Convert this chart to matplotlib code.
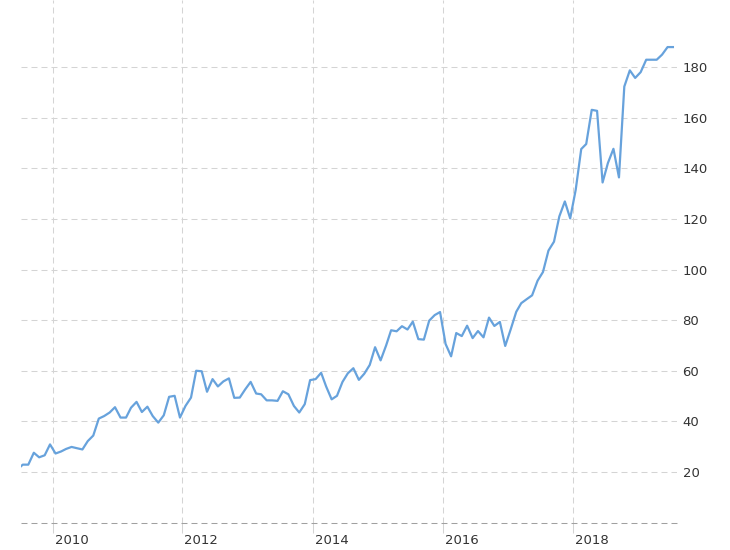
import matplotlib
matplotlib.use("Agg")
import matplotlib.pyplot as plt
import matplotlib.dates as mdates
import matplotlib.transforms as mtrans
import pandas as pd

# Monthly values, June 2009 .. July 2019
values = [
    21.0, 22.9, 22.9, 27.6, 25.8, 26.6, 30.9, 27.3, 28.1, 29.1, 29.9, 29.4,
    28.9, 32.2, 34.4, 41.1, 42.1, 43.5, 45.6, 41.5, 41.5, 45.4, 47.7, 43.7,
    45.8, 42.1, 39.5, 42.4, 49.7, 50.1, 41.5, 46.1, 49.4, 60.0, 59.8, 51.7,
    56.7, 53.8, 55.8, 57.0, 49.3, 49.4, 52.6, 55.6, 51.0, 50.7, 48.3, 48.3,
    48.1, 51.9, 50.7, 46.1, 43.5, 46.8, 56.3, 56.7, 59.2, 53.8, 48.7, 50.1,
    55.6, 59.0, 61.0, 56.4, 58.8, 62.3, 69.3, 64.1, 70.0, 76.0, 75.6, 77.6,
    76.3, 79.4, 72.5, 72.3, 79.8, 82.0, 83.2, 70.6, 65.7, 74.9, 73.7, 77.8,
    72.9, 75.7, 73.2, 81.0, 77.7, 79.3, 69.8, 76.4, 83.3, 86.7, 88.3, 89.8,
    95.6, 99.0, 107.5, 111.0, 121.0, 126.9, 120.2, 131.5, 147.6, 149.6, 163.1, 162.7,
    134.4, 142.1, 147.7, 136.4, 172.3, 178.7, 175.7, 178.0, 182.9, 182.9, 182.9, 184.9,
    187.9, 187.9,
]
dates = pd.date_range("2009-06-01", periods=len(values), freq="MS") + pd.Timedelta(days=17)

x_tick_years = [2010, 2012, 2014, 2016, 2018]
y_ticks = [20, 40, 60, 80, 100, 120, 140, 160, 180]

plt.rcParams["lines.scale_dashes"] = False
plt.rcParams["font.family"] = ["DejaVu Sans"]

fig = plt.figure(figsize=(7.3, 5.5), dpi=100)
ax = fig.add_axes([21 / 730, (550 - 522.6) / 550, (677 - 21) / 730, 522.6 / 550])

grid_color = "#d4d4d4"
dash = (0, (4.3, 2.9))

ax.plot(dates, values, color="#67a2dc", lw=1.6, solid_joinstyle="round", zorder=3)

ax.set_xlim(pd.Timestamp("2009-07-08"), pd.Timestamp("2019-08-10"))
ax.set_ylim(0, 206.5)

ax.set_xticks([pd.Timestamp(f"{y}-01-01") for y in x_tick_years])
ax.xaxis.set_major_formatter(mdates.DateFormatter("%Y"))
ax.set_yticks(y_ticks)
ax.yaxis.tick_right()

ax.grid(True, axis="both", color=grid_color, linestyle=dash, linewidth=0.75)
ax.axhline(0, color="#a0a0a0", linestyle=dash, linewidth=0.75, zorder=2, clip_on=False)

for s in ax.spines.values():
    s.set_visible(False)

ax.tick_params(axis="x", length=7, color=grid_color, width=0.75, pad=1,
               labelsize=9.5, labelcolor="#333333")
ax.tick_params(axis="y", length=0, pad=4, labelsize=9.5, labelcolor="#333333")

offset = mtrans.ScaledTranslation(0.02, 0, fig.dpi_scale_trans)
for lab in ax.get_xticklabels():
    lab.set_ha("left")
    lab.set_transform(lab.get_transform() + offset)

fig.savefig("out.png", dpi=100)
